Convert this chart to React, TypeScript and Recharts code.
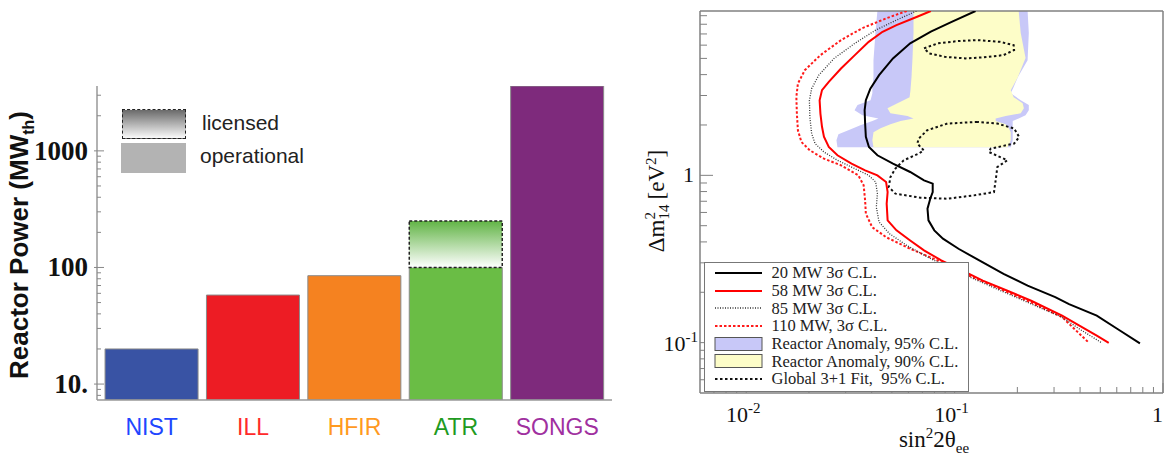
import React from 'react'
import {
  BarChart,
  Bar,
  Cell,
  XAxis,
  YAxis,
  Legend,
  ComposedChart,
  Line,
  Area,
  ReferenceLine
} from 'recharts'

// ---------- left panel: reactor power ----------
const reactors = ['NIST', 'ILL', 'HFIR', 'ATR', 'SONGS']
const operationalMW = [20, 58, 85, 100, 3600]
const licensedExtraMW = [0, 0, 0, 150, 0]
const barColors = ['#3953a4', '#ed1c24', '#f58220', '#6abd45', '#7e2a7c']
const nameColors = ['#2146ff', '#ff2a2a', '#ff9a1f', '#1f9b1f', '#a0309f']
const powerTicks = [8, 9, 10, 20, 30, 40, 50, 60, 70, 80, 90, 100, 200, 300, 400, 500, 600, 700, 800, 900, 1000, 2000, 3000]
const powerLabels: Record<number, string> = { 10: '10.', 100: '100', 1000: '1000' }

// ---------- right panel: sensitivity (x = sin^2 2theta, y = dm^2) ----------
const mixTicks = [0.007, 0.008, 0.009, 0.01, 0.02, 0.03, 0.04, 0.05, 0.06, 0.07, 0.08, 0.09, 0.1, 0.2, 0.3, 0.4, 0.5, 0.6, 0.7, 0.8, 0.9, 1]
const dmTicks = [0.06, 0.07, 0.08, 0.09, 0.1, 0.2, 0.3, 0.4, 0.5, 0.6, 0.7, 0.8, 0.9, 1, 2, 3, 4, 5, 6, 7, 8, 9]

const cl20MW = [
  { x: 0.126, y: 9.6 }, { x: 0.0968, y: 8.26 }, { x: 0.0769, y: 7.22 }, { x: 0.0612, y: 6.15 },
  { x: 0.0506, y: 5.0 }, { x: 0.0434, y: 3.97 }, { x: 0.0394, y: 3.3 }, { x: 0.0375, y: 2.81 },
  { x: 0.037, y: 2.45 }, { x: 0.0372, y: 2.04 }, { x: 0.0375, y: 1.7 }, { x: 0.0388, y: 1.477 },
  { x: 0.0426, y: 1.318 }, { x: 0.0506, y: 1.175 }, { x: 0.0612, y: 1.047 }, { x: 0.0713, y: 0.933 },
  { x: 0.0785, y: 0.892 }, { x: 0.0785, y: 0.794 }, { x: 0.0764, y: 0.725 }, { x: 0.0741, y: 0.632 },
  { x: 0.0749, y: 0.538 }, { x: 0.0799, y: 0.469 }, { x: 0.0879, y: 0.418 }, { x: 0.1044, y: 0.364 },
  { x: 0.1313, y: 0.31 }, { x: 0.1717, y: 0.258 }, { x: 0.224, y: 0.219 }, { x: 0.304, y: 0.187 },
  { x: 0.354, y: 0.17 }, { x: 0.481, y: 0.145 }, { x: 0.605, y: 0.1207 }, { x: 0.775, y: 0.099 }
]

const cl58MW = [
  { x: 0.0769, y: 9.6 }, { x: 0.0661, y: 8.87 }, { x: 0.0526, y: 7.91 }, { x: 0.0451, y: 7.21 },
  { x: 0.0387, y: 6.28 }, { x: 0.0332, y: 5.23 }, { x: 0.0285, y: 4.35 }, { x: 0.0249, y: 3.62 },
  { x: 0.0231, y: 3.23 }, { x: 0.0225, y: 2.81 }, { x: 0.0227, y: 2.34 }, { x: 0.0231, y: 1.95 },
  { x: 0.0236, y: 1.7 }, { x: 0.0249, y: 1.477 }, { x: 0.0274, y: 1.318 }, { x: 0.032, y: 1.175 },
  { x: 0.0372, y: 1.071 }, { x: 0.0426, y: 1.0 }, { x: 0.0469, y: 0.912 }, { x: 0.0477, y: 0.794 },
  { x: 0.0472, y: 0.677 }, { x: 0.0477, y: 0.538 }, { x: 0.0526, y: 0.469 }, { x: 0.0612, y: 0.408 },
  { x: 0.0713, y: 0.356 }, { x: 0.0863, y: 0.31 }, { x: 0.1086, y: 0.27 }, { x: 0.1365, y: 0.235 },
  { x: 0.178, y: 0.205 }, { x: 0.233, y: 0.178 }, { x: 0.328, y: 0.145 }, { x: 0.397, y: 0.1264 },
  { x: 0.481, y: 0.11 }, { x: 0.549, y: 0.0996 }
]

const cl85MW = [
  { x: 0.0656, y: 9.6 }, { x: 0.0526, y: 8.47 }, { x: 0.0418, y: 7.38 }, { x: 0.0332, y: 6.15 },
  { x: 0.0264, y: 5.0 }, { x: 0.0223, y: 3.97 }, { x: 0.0206, y: 3.3 }, { x: 0.0201, y: 2.81 },
  { x: 0.0202, y: 2.23 }, { x: 0.0206, y: 1.776 }, { x: 0.0214, y: 1.548 }, { x: 0.0236, y: 1.379 },
  { x: 0.0274, y: 1.23 }, { x: 0.0332, y: 1.097 }, { x: 0.0387, y: 1.0 }, { x: 0.0418, y: 0.912 },
  { x: 0.0426, y: 0.777 }, { x: 0.0421, y: 0.646 }, { x: 0.0434, y: 0.526 }, { x: 0.0487, y: 0.448 },
  { x: 0.0589, y: 0.381 }, { x: 0.0769, y: 0.317 }, { x: 0.1086, y: 0.258 }, { x: 0.153, y: 0.214 },
  { x: 0.224, y: 0.174 }, { x: 0.328, y: 0.142 }, { x: 0.397, y: 0.1207 }, { x: 0.509, y: 0.0996 }
]

const cl110MW = [
  { x: 0.0589, y: 9.6 }, { x: 0.0469, y: 8.67 }, { x: 0.0359, y: 7.56 }, { x: 0.0285, y: 6.43 },
  { x: 0.0227, y: 5.23 }, { x: 0.0191, y: 4.25 }, { x: 0.0177, y: 3.54 }, { x: 0.0174, y: 2.94 },
  { x: 0.0175, y: 2.34 }, { x: 0.0177, y: 1.86 }, { x: 0.0184, y: 1.583 }, { x: 0.0202, y: 1.411 },
  { x: 0.0236, y: 1.258 }, { x: 0.0285, y: 1.148 }, { x: 0.0345, y: 1.0 }, { x: 0.0366, y: 0.871 },
  { x: 0.0372, y: 0.708 }, { x: 0.0375, y: 0.59 }, { x: 0.0402, y: 0.49 }, { x: 0.0469, y: 0.427 },
  { x: 0.0612, y: 0.364 }, { x: 0.083, y: 0.31 }, { x: 0.1172, y: 0.252 }, { x: 0.165, y: 0.2095 },
  { x: 0.242, y: 0.17 }, { x: 0.328, y: 0.142 }, { x: 0.383, y: 0.118 }, { x: 0.442, y: 0.0996 }
]

const globalFitUpper = [
  { x: 0.0713, y: 5.74 }, { x: 0.083, y: 6.15 }, { x: 0.1044, y: 6.35 }, { x: 0.1288, y: 6.43 },
  { x: 0.165, y: 6.28 }, { x: 0.192, y: 6.0 }, { x: 0.193, y: 5.61 }, { x: 0.1717, y: 5.23 },
  { x: 0.1365, y: 5.07 }, { x: 0.1127, y: 5.0 }, { x: 0.0896, y: 5.11 }, { x: 0.0755, y: 5.36 },
  { x: 0.0713, y: 5.74 }
]

const globalFitLower = [
  { x: 0.1285, y: 2.085 }, { x: 0.0923, y: 2.04 }, { x: 0.0739, y: 1.86 }, { x: 0.0673, y: 1.659 },
  { x: 0.0662, y: 1.548 }, { x: 0.0711, y: 1.411 }, { x: 0.0673, y: 1.349 }, { x: 0.057, y: 1.23 },
  { x: 0.052, y: 1.097 }, { x: 0.0492, y: 0.977 }, { x: 0.0483, y: 0.851 }, { x: 0.052, y: 0.777 },
  { x: 0.0686, y: 0.735 }, { x: 0.0923, y: 0.725 }, { x: 0.1238, y: 0.759 }, { x: 0.1545, y: 0.794 },
  { x: 0.1574, y: 0.933 }, { x: 0.1603, y: 1.121 }, { x: 0.179, y: 1.23 }, { x: 0.146, y: 1.379 },
  { x: 0.149, y: 1.445 }, { x: 0.193, y: 1.548 }, { x: 0.204, y: 1.696 }, { x: 0.193, y: 1.904 },
  { x: 0.1603, y: 2.04 }, { x: 0.1285, y: 2.085 }
]

// allowed regions: for each dm^2, the sin^2 range [lo, hi]
const anomaly95 = [
  { y: 9.6, lo: 0.0426, hi: 0.224 }, { y: 7.08, lo: 0.0417, hi: 0.227 }, { y: 4.88, lo: 0.0408, hi: 0.224 },
  { y: 3.86, lo: 0.0408, hi: 0.201 }, { y: 3.37, lo: 0.0403, hi: 0.192 }, { y: 3.1, lo: 0.0403, hi: 0.186 },
  { y: 2.81, lo: 0.0395, hi: 0.2076 }, { y: 2.63, lo: 0.0342, hi: 0.227 }, { y: 2.45, lo: 0.0331, hi: 0.227 },
  { y: 2.29, lo: 0.0361, hi: 0.219 }, { y: 2.19, lo: 0.0431, hi: 0.203 }, { y: 2.11, lo: 0.0403, hi: 0.19 },
  { y: 1.99, lo: 0.0353, hi: 0.19 }, { y: 1.86, lo: 0.0309, hi: 0.19 }, { y: 1.76, lo: 0.0277, hi: 0.19 },
  { y: 1.62, lo: 0.0271, hi: 0.19 }, { y: 1.47, lo: 0.0274, hi: 0.186 }
]

const anomaly90 = [
  { y: 9.6, lo: 0.0635, hi: 0.203 }, { y: 7.08, lo: 0.0635, hi: 0.2076 }, { y: 5.02, lo: 0.0628, hi: 0.219 },
  { y: 3.86, lo: 0.0621, hi: 0.201 }, { y: 3.23, lo: 0.0614, hi: 0.186 }, { y: 2.93, lo: 0.0608, hi: 0.192 },
  { y: 2.7, lo: 0.0532, hi: 0.212 }, { y: 2.52, lo: 0.0476, hi: 0.215 }, { y: 2.35, lo: 0.0492, hi: 0.2076 },
  { y: 2.26, lo: 0.0594, hi: 0.1758 }, { y: 2.19, lo: 0.0635, hi: 0.1574 }, { y: 2.11, lo: 0.055, hi: 0.1574 },
  { y: 2.02, lo: 0.0492, hi: 0.1758 }, { y: 1.91, lo: 0.0441, hi: 0.182 }, { y: 1.81, lo: 0.0408, hi: 0.186 },
  { y: 1.62, lo: 0.0403, hi: 0.186 }, { y: 1.47, lo: 0.0408, hi: 0.1798 }
]

const legendRows = [
  { label: '20 MW 3σ C.L.', color: '#000000', dash: '', width: 2 },
  { label: '58 MW 3σ C.L.', color: '#ff0000', dash: '', width: 2 },
  { label: '85 MW 3σ C.L.', color: '#333333', dash: '1 1.5', width: 1.3 },
  { label: '110 MW, 3σ C.L.', color: '#ff1a1a', dash: '2.5 2', width: 2 },
  { label: 'Reactor Anomaly, 95% C.L.', box: '#c8c8f8' },
  { label: 'Reactor Anomaly, 90% C.L.', box: '#fdfdc8' },
  { label: 'Global 3+1 Fit,  95% C.L.', color: '#111111', dash: '2.5 2.5', width: 2 }
]

const barData = reactors.map((name, i) => ({
  name,
  operational: operationalMW[i],
  licensed: licensedExtraMW[i]
}))

const serif = '"Liberation Serif", "Times New Roman", serif'
const sans = '"Liberation Sans", Arial, sans-serif'

function ReactorTick({ x, y, payload, index }: any) {
  return (
    <text x={x} y={y + 35} textAnchor="middle" fontFamily={sans} fontSize={23} fill={nameColors[index]}>
      {payload.value}
    </text>
  )
}

function PowerTick({ x, y, payload }: any) {
  const label = powerLabels[payload.value]
  return (
    <g>
      <line x1={label ? x - 3 : x} x2={x + (label ? 7 : 4)} y1={y} y2={y} stroke="#888" strokeWidth={1} />
      {label && (
        <text
          x={x - 9}
          y={y + 9}
          textAnchor="end"
          style={{ fontFamily: serif, fontWeight: 700, fontSize: '27px' }}
          fill="#111"
        >
          {label}
        </text>
      )}
    </g>
  )
}

function PowerLegend() {
  return (
    <div style={{ position: 'relative', width: 200, height: 66, fontFamily: sans, fontSize: 21, color: '#222' }}>
      <div
        style={{
          position: 'absolute', left: 1, top: 1, width: 64, height: 30, boxSizing: 'border-box',
          background: 'linear-gradient(#6a6a6a, #fafafa)', border: '1.5px dashed #222'
        }}
      />
      <div style={{ position: 'absolute', left: 81, top: 3, lineHeight: '24px' }}>licensed</div>
      <div style={{ position: 'absolute', left: 0, top: 35, width: 65, height: 30, background: '#b3b3b3' }} />
      <div style={{ position: 'absolute', left: 79, top: 36, lineHeight: '24px' }}>operational</div>
    </div>
  )
}

function MixTick({ x, y, payload }: any) {
  const v = payload.value
  const major = v === 0.01 || v === 0.1 || v === 1
  let label: any = null
  if (v === 0.01 || v === 0.1) {
    label = (
      <text x={x - 3} y={y + 29} textAnchor="middle" fontFamily={serif} fontSize={22} fill="#111">
        10<tspan dy={-9} fontSize={15}>{v === 0.01 ? '-2' : '-1'}</tspan>
      </text>
    )
  } else if (v === 1) {
    label = (
      <text x={x} y={y + 29} textAnchor="end" fontFamily={serif} fontSize={22} fill="#111">1</text>
    )
  }
  return (
    <g>
      <line x1={x} x2={x} y1={y} y2={y - (major ? 10 : 6)} stroke="#808080" strokeWidth={1} />
      {label}
    </g>
  )
}

function DmTick({ x, y, payload }: any) {
  const v = payload.value
  const major = v === 0.1 || v === 1
  let label: any = null
  if (v === 1) {
    label = (
      <text x={x - 6} y={y + 7} textAnchor="end" fontFamily={serif} fontSize={22} fill="#111">1</text>
    )
  } else if (v === 0.1) {
    label = (
      <text x={x - 2} y={y + 8} textAnchor="end" fontFamily={serif} fontSize={22} fill="#111">
        10<tspan dy={-9} fontSize={15}>-1</tspan>
      </text>
    )
  }
  return (
    <g>
      <line x1={x} x2={x + (major ? 13 : 7)} y1={y} y2={y} stroke="#808080" strokeWidth={1} />
      {label}
    </g>
  )
}

function SensitivityLegend() {
  return (
    <div
      style={{
        width: 265, height: 130, boxSizing: 'border-box', background: '#fff', border: '1.5px solid #777',
        fontFamily: serif, fontSize: 16.5, color: '#222', paddingTop: 1
      }}
    >
      {legendRows.map((r: any) => (
        <div key={r.label} style={{ display: 'flex', alignItems: 'center', height: 17.7 }}>
          <svg width={52} height={14} style={{ marginLeft: 8, marginRight: 6.5, flexShrink: 0 }}>
            {r.box ? (
              <rect x={2} y={0.5} width={47} height={13} fill={r.box} stroke="#555" strokeWidth={1} />
            ) : (
              <line x1={2} x2={49} y1={7} y2={7} stroke={r.color} strokeWidth={r.width} strokeDasharray={r.dash} />
            )}
          </svg>
          <span style={{ whiteSpace: 'pre', lineHeight: '17px' }}>{r.label}</span>
        </div>
      ))}
    </div>
  )
}

export default function App() {
  return (
    <div style={{ position: 'absolute', left: 0, top: 0, width: 1164, height: 456, overflow: 'hidden', background: '#fff' }}>
      {/* left panel */}
      <div style={{ position: 'absolute', left: 0, top: 0 }}>
        <BarChart
          width={620}
          height={456}
          data={barData}
          margin={{ top: 86, right: 8, bottom: 16, left: 37 }}
          barCategoryGap="4%"
        >
          <defs>
            <linearGradient id="licGreen" x1="0" y1="0" x2="0" y2="1">
              <stop offset="0" stopColor="#62b446" />
              <stop offset="1" stopColor="#ffffff" />
            </linearGradient>
          </defs>
          <XAxis
            dataKey="name"
            padding={{ left: 4, right: 4 }}
            interval={0}
            height={40}
            tickLine={false}
            tickSize={0}
            tickMargin={0}
            tick={<ReactorTick />}
            axisLine={{ stroke: '#999', strokeWidth: 1.5 }}
          />
          <YAxis
            type="number"
            scale="log"
            domain={[7.3, 3600]}
            allowDataOverflow
            ticks={powerTicks}
            interval={0}
            width={60}
            tickLine={false}
            tickSize={0}
            tickMargin={0}
            tick={<PowerTick />}
            axisLine={{ stroke: '#999', strokeWidth: 1.5 }}
          />
          <Bar dataKey="operational" stackId="p" stroke="#8a8a8a" strokeWidth={1} isAnimationActive={false}>
            {barData.map((d, i) => (
              <Cell key={d.name} fill={barColors[i]} />
            ))}
          </Bar>
          <Bar
            dataKey="licensed"
            stackId="p"
            fill="url(#licGreen)"
            stroke="#222"
            strokeWidth={1.5}
            strokeDasharray="3 2"
            isAnimationActive={false}
          />
          <Legend
            layout="vertical"
            align="center"
            verticalAlign="middle"
            content={() => <PowerLegend />}
            wrapperStyle={{ left: 121, top: 108, width: 200, height: 66 }}
          />
        </BarChart>
        <div
          style={{
            position: 'absolute', left: 21, top: 245, transform: 'translate(-50%, -50%) rotate(-90deg)',
            whiteSpace: 'nowrap', fontFamily: sans, fontWeight: 'bold', fontSize: 26, color: '#111'
          }}
        >
          Reactor Power (MW<sub style={{ fontSize: 16 }}>th</sub>)
        </div>
      </div>

      {/* right panel */}
      <div style={{ position: 'absolute', left: 620, top: 0 }}>
        <ComposedChart layout="vertical" width={544} height={456} margin={{ top: 11, right: 1, bottom: 23, left: 20 }}>
          <XAxis
            type="number"
            scale="log"
            domain={[0.006, 1]}
            allowDataOverflow
            ticks={mixTicks}
            interval={0}
            height={40}
            tickLine={false}
            tickSize={0}
            tickMargin={0}
            tick={<MixTick />}
            axisLine={{ stroke: '#808080', strokeWidth: 1.5 }}
          />
          <YAxis
            type="number"
            dataKey="y"
            scale="log"
            domain={[0.05, 9.6]}
            allowDataOverflow
            reversed
            ticks={dmTicks}
            interval={0}
            width={60}
            tickLine={false}
            tickSize={0}
            tickMargin={0}
            tick={<DmTick />}
            axisLine={{ stroke: '#808080', strokeWidth: 1.5 }}
          />
          <ReferenceLine y={9.6} stroke="#808080" strokeWidth={1.5} />
          <ReferenceLine x={1} stroke="#808080" strokeWidth={1.5} />
          <Area
            data={anomaly95}
            dataKey={(d: any) => [d.lo, d.hi]}
            type="linear"
            stroke="none"
            fill="#c8c8f8"
            fillOpacity={1}
            isAnimationActive={false}
          />
          <Area
            data={anomaly90}
            dataKey={(d: any) => [d.lo, d.hi]}
            type="linear"
            stroke="none"
            fill="#fdfdc8"
            fillOpacity={1}
            isAnimationActive={false}
          />
          <Line data={globalFitUpper} dataKey="x" type="linear" stroke="#111" strokeWidth={2} strokeDasharray="2.5 2.5" dot={false} isAnimationActive={false} />
          <Line data={globalFitLower} dataKey="x" type="linear" stroke="#111" strokeWidth={2} strokeDasharray="2.5 2.5" dot={false} isAnimationActive={false} />
          <Line data={cl110MW} dataKey="x" type="linear" stroke="#ff1a1a" strokeWidth={2} strokeDasharray="2.5 2" dot={false} isAnimationActive={false} />
          <Line data={cl85MW} dataKey="x" type="linear" stroke="#333" strokeWidth={1.3} strokeDasharray="1 1.5" dot={false} isAnimationActive={false} />
          <Line data={cl58MW} dataKey="x" type="linear" stroke="#ff0000" strokeWidth={2} dot={false} isAnimationActive={false} />
          <Line data={cl20MW} dataKey="x" type="linear" stroke="#000" strokeWidth={2} dot={false} isAnimationActive={false} />
          <Legend
            layout="vertical"
            align="center"
            verticalAlign="middle"
            content={() => <SensitivityLegend />}
            wrapperStyle={{ left: 84, top: 262, width: 265, height: 130 }}
          />
        </ComposedChart>
        <div
          style={{
            position: 'absolute', left: 314, top: 441, transform: 'translate(-50%, -50%)',
            whiteSpace: 'nowrap', fontFamily: serif, fontSize: 23, color: '#111'
          }}
        >
          sin<sup style={{ fontSize: 15 }}>2</sup>2θ<sub style={{ fontSize: 15 }}>ee</sub>
        </div>
        <div
          style={{
            position: 'absolute', left: 37, top: 201, transform: 'translate(-50%, -50%) rotate(-90deg)',
            whiteSpace: 'nowrap', fontFamily: serif, fontSize: 23, color: '#111', display: 'flex', alignItems: 'center'
          }}
        >
          <span>Δm</span>
          <span style={{ display: 'inline-flex', flexDirection: 'column', fontSize: 15, lineHeight: '14px', marginRight: 5 }}>
            <span>2</span>
            <span>14</span>
          </span>
          <span>[eV</span>
          <sup style={{ fontSize: 15, alignSelf: 'flex-start' }}>2</sup>
          <span>]</span>
        </div>
      </div>
    </div>
  )
}
